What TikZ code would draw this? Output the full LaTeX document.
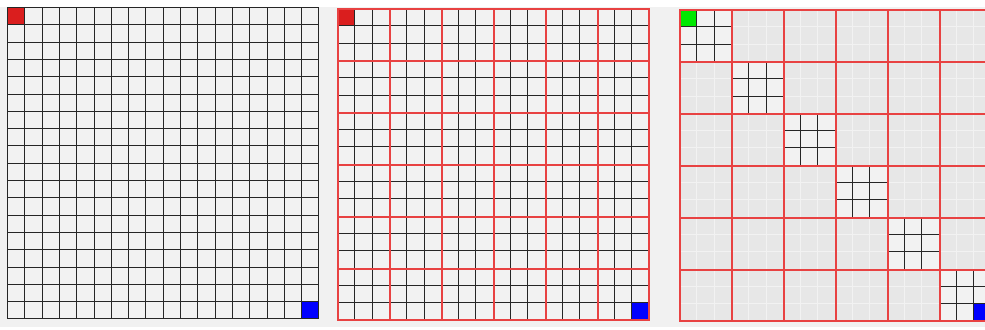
\documentclass[tikz,border=0pt]{standalone}
\usetikzlibrary{calc}
\definecolor{paper}{RGB}{241,241,241}
\definecolor{cellgray}{RGB}{242,242,242}
\definecolor{offgray}{RGB}{231,231,231}
\definecolor{blockred}{RGB}{232,66,66}
\definecolor{cornerred}{RGB}{218,30,30}
\definecolor{cornerblue}{RGB}{0,0,255}
\definecolor{cornergreen}{RGB}{0,232,0}
\def\cellw{17.3}
\def\side{312.4}

\begin{document}
\begin{tikzpicture}[x=0.025cm,y=-0.025cm,
    cellline/.style={black!85,line width=0.035cm},
    faintline/.style={white!45!offgray,line width=0.03cm},
    blockline/.style={blockred,line width=0.0375cm}]
  \useasboundingbox (0,0) rectangle (985,329);
  \clip (0,0) rectangle (985,329);
  \fill[white] (0,0) rectangle (985,329);
  \fill[paper] (0,7) rectangle (985,327);

  % plain grid
  \begin{scope}[shift={(7,7)}]
    \fill[cellgray] (0,0) rectangle (312,312);
    \fill[cornerred] (0,0) rectangle (18,18);
    \fill[cornerblue] (294,294) rectangle (312,312);
    \foreach \i [evaluate=\i as \p using {round(\i*\cellw)+0.7}] in {0,...,18}{
      \draw[cellline] (\p,0) -- (\p,\side);
      \draw[cellline] (0,\p) -- (\side,\p);
    }
  \end{scope}

  % grid split in 3x3 blocks
  \begin{scope}[shift={(337,8)}]
    \fill[cellgray] (0,0) rectangle (312,312);
    \fill[cornerred] (0,0) rectangle (18,18);
    \fill[cornerblue] (294,294) rectangle (312,312);
    \foreach \i [evaluate=\i as \p using {round(\i*\cellw)+0.7}] in {1,2,4,5,7,8,10,11,13,14,16,17}{
      \draw[cellline] (\p,0) -- (\p,\side);
      \draw[cellline] (0,\p) -- (\side,\p);
    }
    \foreach \b [evaluate=\b as \p using {round(3*\b*\cellw)+0.75}] in {0,...,6}{
      \draw[blockline] (\p,0) -- (\p,312.5);
      \draw[blockline] (0,\p) -- (312.5,\p);
    }
  \end{scope}

  % only the diagonal blocks kept
  \begin{scope}[shift={(679,9)}]
    \fill[offgray] (0,0) rectangle (312,312);
    \foreach \i [evaluate=\i as \p using {round(\i*\cellw)+0.6}] in {1,2,4,5,7,8,10,11,13,14,16,17}{
      \draw[faintline] (\p,0) -- (\p,\side);
      \draw[faintline] (0,\p) -- (\side,\p);
    }
    \foreach \b [evaluate=\b as \p using {round(3*\b*\cellw)},
                 evaluate=\b as \q using {round(3*(\b+1)*\cellw)}] in {0,...,5}{
      \fill[cellgray] (\p,\p) rectangle (\q,\q);
    }
    \fill[cornergreen] (0,0) rectangle (18,18);
    \fill[cornerblue] (294,294) rectangle (312,312);
    \foreach \b [evaluate=\b as \p using {round(3*\b*\cellw)},
                 evaluate=\b as \q using {round(3*(\b+1)*\cellw)}] in {0,...,5}{
      \foreach \k [evaluate=\k as \r using {round((3*\b+\k)*\cellw)+0.7}] in {1,2}{
        \draw[cellline] (\r,\p) -- (\r,\q);
        \draw[cellline] (\p,\r) -- (\q,\r);
      }
    }
    \foreach \b [evaluate=\b as \p using {round(3*\b*\cellw)+0.75}] in {0,...,6}{
      \draw[blockline] (\p,0) -- (\p,312.5);
      \draw[blockline] (0,\p) -- (312.5,\p);
    }
  \end{scope}
\end{tikzpicture}
\end{document}
